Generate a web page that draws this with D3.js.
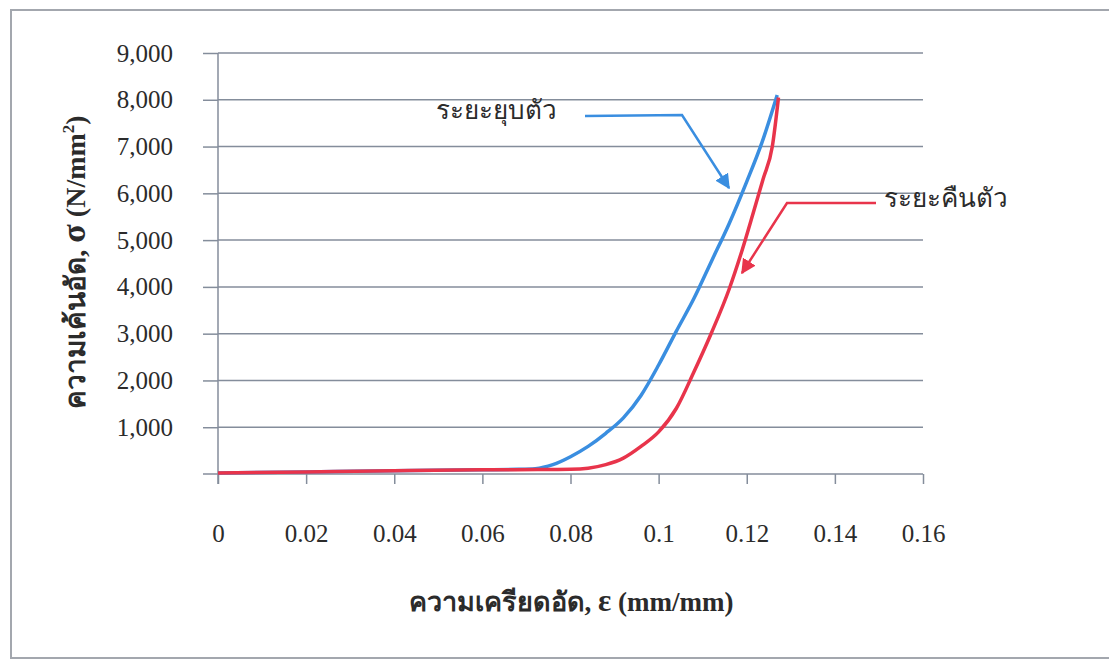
<!DOCTYPE html>
<html>
<head>
<meta charset="utf-8">
<script src="https://cdn.jsdelivr.net/npm/d3@7"></script>
<style>
  html, body { margin: 0; padding: 0; background: #ffffff; }
  svg { display: block; }
  text { fill: #2b2b2b; }
</style>
</head>
<body>
<svg id="chart" width="1109" height="661"></svg>
<script>
// Compression test: stress vs strain, loading and unloading branches
const xTickValues = [0, 0.02, 0.04, 0.06, 0.08, 0.1, 0.12, 0.14, 0.16];
const xTickLabels = ["0", "0.02", "0.04", "0.06", "0.08", "0.1", "0.12", "0.14", "0.16"];
const yTickValues = [1000, 2000, 3000, 4000, 5000, 6000, 7000, 8000, 9000];

// Loading branch (ระยะยุบตัว)
const loadStrain = [0, 0.02, 0.04, 0.06, 0.068, 0.072, 0.076, 0.080, 0.084, 0.088, 0.092, 0.096, 0.100, 0.104, 0.108, 0.112, 0.116, 0.120, 0.1235, 0.1269];
const loadStress = [20, 45, 70, 90, 100, 115, 200, 370, 590, 870, 1200, 1680, 2330, 3050, 3750, 4550, 5350, 6250, 7100, 8100];

// Unloading branch (ระยะคืนตัว)
const unloadStrain = [0, 0.02, 0.04, 0.06, 0.075, 0.080, 0.084, 0.088, 0.092, 0.096, 0.100, 0.104, 0.108, 0.112, 0.116, 0.119, 0.1215, 0.1237, 0.1258, 0.1272];
const unloadStress = [20, 45, 70, 90, 95, 100, 125, 200, 340, 590, 900, 1400, 2180, 3020, 3950, 4800, 5590, 6300, 7000, 8050];

const loadLabel = "ระยะยุบตัว";
const unloadLabel = "ระยะคืนตัว";

const svg = d3.select("#chart");
const serif = "'Liberation Serif', 'Times New Roman', serif";
const axisColor = "#848d9b";

const x = d3.scaleLinear().domain([0, 0.16]).range([218, 923]);
const y = d3.scaleLinear().domain([0, 9000]).range([474, 53]);

// outer frame
svg.append("rect")
  .attr("x", 11).attr("y", 10).attr("width", 1120).attr("height", 648)
  .attr("fill", "none").attr("stroke", "#a3a7ae").attr("stroke-width", 2);

// horizontal gridlines
svg.append("g").selectAll("line").data(yTickValues).join("line")
  .attr("x1", x(0)).attr("x2", x(0.16))
  .attr("y1", d => y(d)).attr("y2", d => y(d))
  .attr("stroke", axisColor).attr("stroke-width", 1.5);

// y axis
const yAxis = svg.append("g")
  .attr("transform", `translate(${x(0)},0)`)
  .call(d3.axisLeft(y).tickValues(yTickValues).tickFormat(d3.format(",")).tickSize(15).tickSizeOuter(0).tickPadding(30));
yAxis.select(".domain").remove();
yAxis.selectAll(".tick line").attr("stroke", axisColor).attr("stroke-width", 1.5);
yAxis.selectAll(".tick text")
  .attr("font-family", serif).attr("font-size", 25).attr("fill", "#2b2b2b");

svg.append("line")
  .attr("x1", x(0)).attr("x2", x(0))
  .attr("y1", y(9000)).attr("y2", y(0) + 10)
  .attr("stroke", axisColor).attr("stroke-width", 1.5);

// x axis
const xAxis = svg.append("g")
  .attr("transform", `translate(0,${y(0)})`)
  .call(d3.axisBottom(x).tickValues(xTickValues).tickFormat((d, i) => xTickLabels[i]).tickSize(10).tickSizeOuter(0).tickPadding(40));
xAxis.select(".domain").attr("stroke", axisColor).attr("stroke-width", 1.5)
  .attr("d", `M${x(0) - 15},0H${x(0.16)}`);
xAxis.selectAll(".tick line").attr("stroke", axisColor).attr("stroke-width", 1.5);
xAxis.selectAll(".tick text")
  .attr("font-family", serif).attr("font-size", 25).attr("fill", "#2b2b2b");

// curves
const line = d3.line().x(d => x(d[0])).y(d => y(d[1])).curve(d3.curveMonotoneX);
const loadPts = loadStrain.map((v, i) => [v, loadStress[i]]);
const unloadPts = unloadStrain.map((v, i) => [v, unloadStress[i]]);

svg.append("path").datum(loadPts).attr("d", line)
  .attr("fill", "none").attr("stroke", "#3a8ee0").attr("stroke-width", 3.5).attr("stroke-linejoin", "round");
svg.append("path").datum(unloadPts).attr("d", line)
  .attr("fill", "none").attr("stroke", "#e8344b").attr("stroke-width", 3.5).attr("stroke-linejoin", "round");

// arrow markers
const defs = svg.append("defs");
[["arrBlue", "#3a8ee0"], ["arrRed", "#e8344b"]].forEach(([id, c]) => {
  defs.append("marker").attr("id", id)
    .attr("viewBox", "0 0 10 10").attr("refX", 9).attr("refY", 5)
    .attr("markerWidth", 6).attr("markerHeight", 6).attr("markerUnits", "strokeWidth")
    .attr("orient", "auto")
    .append("path").attr("d", "M0,0L10,5L0,10Z").attr("fill", c);
});

// callouts
svg.append("polyline")
  .attr("points", "585,116 682,115 729,188")
  .attr("fill", "none").attr("stroke", "#3a8ee0").attr("stroke-width", 2.5)
  .attr("marker-end", "url(#arrBlue)");
svg.append("polyline")
  .attr("points", "876,203 787,203 742,273")
  .attr("fill", "none").attr("stroke", "#e8344b").attr("stroke-width", 2.5)
  .attr("marker-end", "url(#arrRed)");

svg.append("text").attr("x", 496).attr("y", 119).attr("text-anchor", "middle")
  .attr("font-family", serif).attr("font-size", 26).text(loadLabel);
svg.append("text").attr("x", 946).attr("y", 207).attr("text-anchor", "middle")
  .attr("font-family", serif).attr("font-size", 26).text(unloadLabel);

// axis titles
const xTitle = svg.append("text")
  .attr("x", 571).attr("y", 611).attr("text-anchor", "middle")
  .attr("font-family", serif).attr("font-size", 27).attr("font-weight", "bold");
xTitle.append("tspan").text("ความเครียดอัด, ");
xTitle.append("tspan").attr("font-size", 31).text("ε");
xTitle.append("tspan").text(" (mm/mm)");

const yTitle = svg.append("text")
  .attr("transform", "translate(85,262) rotate(-90)")
  .attr("text-anchor", "middle")
  .attr("font-family", serif).attr("font-size", 28).attr("font-weight", "bold");
yTitle.append("tspan").text("ความเค้นอัด, ");
yTitle.append("tspan").attr("font-size", 34).text("σ");
yTitle.append("tspan").text(" (N/mm");
yTitle.append("tspan").attr("font-size", 17).attr("dy", -11).text("2");
yTitle.append("tspan").attr("dy", 11).text(")");
</script>
</body>
</html>
